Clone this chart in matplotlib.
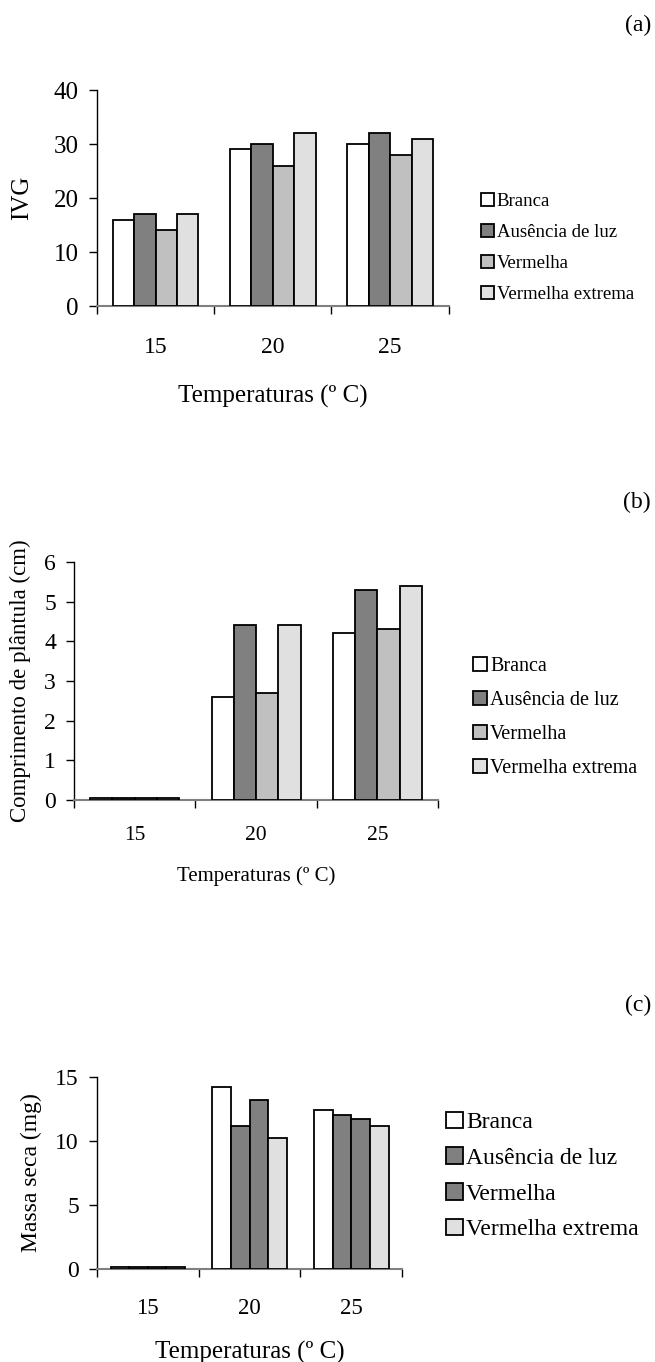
import numpy as np
import matplotlib
matplotlib.use('Agg')
import matplotlib.pyplot as plt

plt.rcParams['font.family'] = ['Liberation Serif', 'DejaVu Serif']

temperaturas = ['15', '20', '25']
tratamentos = ['Branca', 'Ausência de luz', 'Vermelha', 'Vermelha extrema']

# (a) IVG
ivg_branca = [16, 29, 30]
ivg_ausencia = [17, 30, 32]
ivg_vermelha = [14, 26, 28]
ivg_extrema = [17, 32, 31]

# (b) Comprimento de plântula (cm)
comp_branca = [0.05, 2.6, 4.2]
comp_ausencia = [0.05, 4.4, 5.3]
comp_vermelha = [0.05, 2.7, 4.3]
comp_extrema = [0.05, 4.4, 5.4]

# (c) Massa seca (mg)
massa_branca = [0.15, 14.2, 12.4]
massa_ausencia = [0.15, 11.2, 12.0]
massa_vermelha = [0.15, 13.2, 11.7]
massa_extrema = [0.15, 10.2, 11.2]

cores = ['#ffffff', '#808080', '#c0c0c0', '#e0e0e0']
cores_c = ['#ffffff', '#808080', '#808080', '#e0e0e0']

fig = plt.figure(figsize=(6.55, 13.62), dpi=100)


def painel(rect, series, cols, ylabel, ymax, yticks, fs_tick, fs_xtick, fs_label,
           fs_xlabel, fs_leg, ylab_x, xlab_y, tick_pad, leg_anchor, leg_space, letra, letra_y):
    ax = fig.add_axes(rect)
    x = np.arange(len(temperaturas))
    w = 0.183
    offs = (np.arange(4) - 1.5) * w
    for vals, c, nome, o in zip(series, cols, tratamentos, offs):
        ax.bar(x + o, vals, w, color=c, edgecolor='black', linewidth=1.3,
               label=nome, zorder=3)
    ax.set_xlim(-0.5, 2.5)
    ax.set_ylim(0, ymax)
    ax.set_yticks(yticks)
    ax.set_xticks([-0.5, 0.5, 1.5, 2.5])
    ax.set_xticklabels([])
    ax.set_xticks(x, minor=True)
    ax.set_xticklabels(temperaturas, minor=True, fontsize=fs_xtick)
    ax.tick_params(axis='x', which='major', direction='out', length=6, width=1)
    ax.tick_params(axis='x', which='minor', length=0, pad=tick_pad)
    ax.tick_params(axis='y', direction='out', length=6, width=1, pad=7,
                   labelsize=fs_tick)
    for s in ['top', 'right']:
        ax.spines[s].set_visible(False)
    ax.spines['left'].set_linewidth(1)
    ax.spines['bottom'].set_color('#808080')
    ax.spines['bottom'].set_linewidth(1.5)
    ax.set_ylabel(ylabel, fontsize=fs_label)
    ax.yaxis.set_label_coords(ylab_x, 0.5)
    ax.set_xlabel('Temperaturas (º C)', fontsize=fs_xlabel)
    ax.xaxis.set_label_coords(0.5, xlab_y)
    ax.legend(loc='center left', bbox_to_anchor=leg_anchor, bbox_transform=fig.transFigure,
              frameon=False, fontsize=fs_leg, handlelength=0.7, handleheight=0.7,
              handletextpad=0.15, labelspacing=leg_space, borderpad=0, borderaxespad=0)
    fig.text(0.994, letra_y, letra, ha='right', va='center', fontsize=17)
    return ax


painel([0.148, 0.7753, 0.537, 0.1586],
       [ivg_branca, ivg_ausencia, ivg_vermelha, ivg_extrema], cores,
       'IVG', 40, [0, 10, 20, 30, 40], 18, 17, 18, 18, 13.5,
       -0.182, -0.366, 22, (0.734, 0.8179), 0.75, '(a)', 0.9816)

painel([0.113, 0.4126, 0.556, 0.1748],
       [comp_branca, comp_ausencia, comp_vermelha, comp_extrema], cores,
       'Comprimento de plântula (cm)', 6, [0, 1, 2, 3, 4, 5, 6], 17, 15.5, 16.5, 15, 14.5,
       -0.118, -0.277, 19, (0.722, 0.4732), 0.75, '(b)', 0.6314)

painel([0.148, 0.0683, 0.466, 0.141],
       [massa_branca, massa_ausencia, massa_vermelha, massa_extrema], cores_c,
       'Massa seca (mg)', 15, [0, 5, 10, 15], 17, 16.5, 17, 18, 17,
       -0.18, -0.375, 21, (0.681, 0.1366), 0.6, '(c)', 0.2621)

fig.savefig('out.png', dpi=100)
